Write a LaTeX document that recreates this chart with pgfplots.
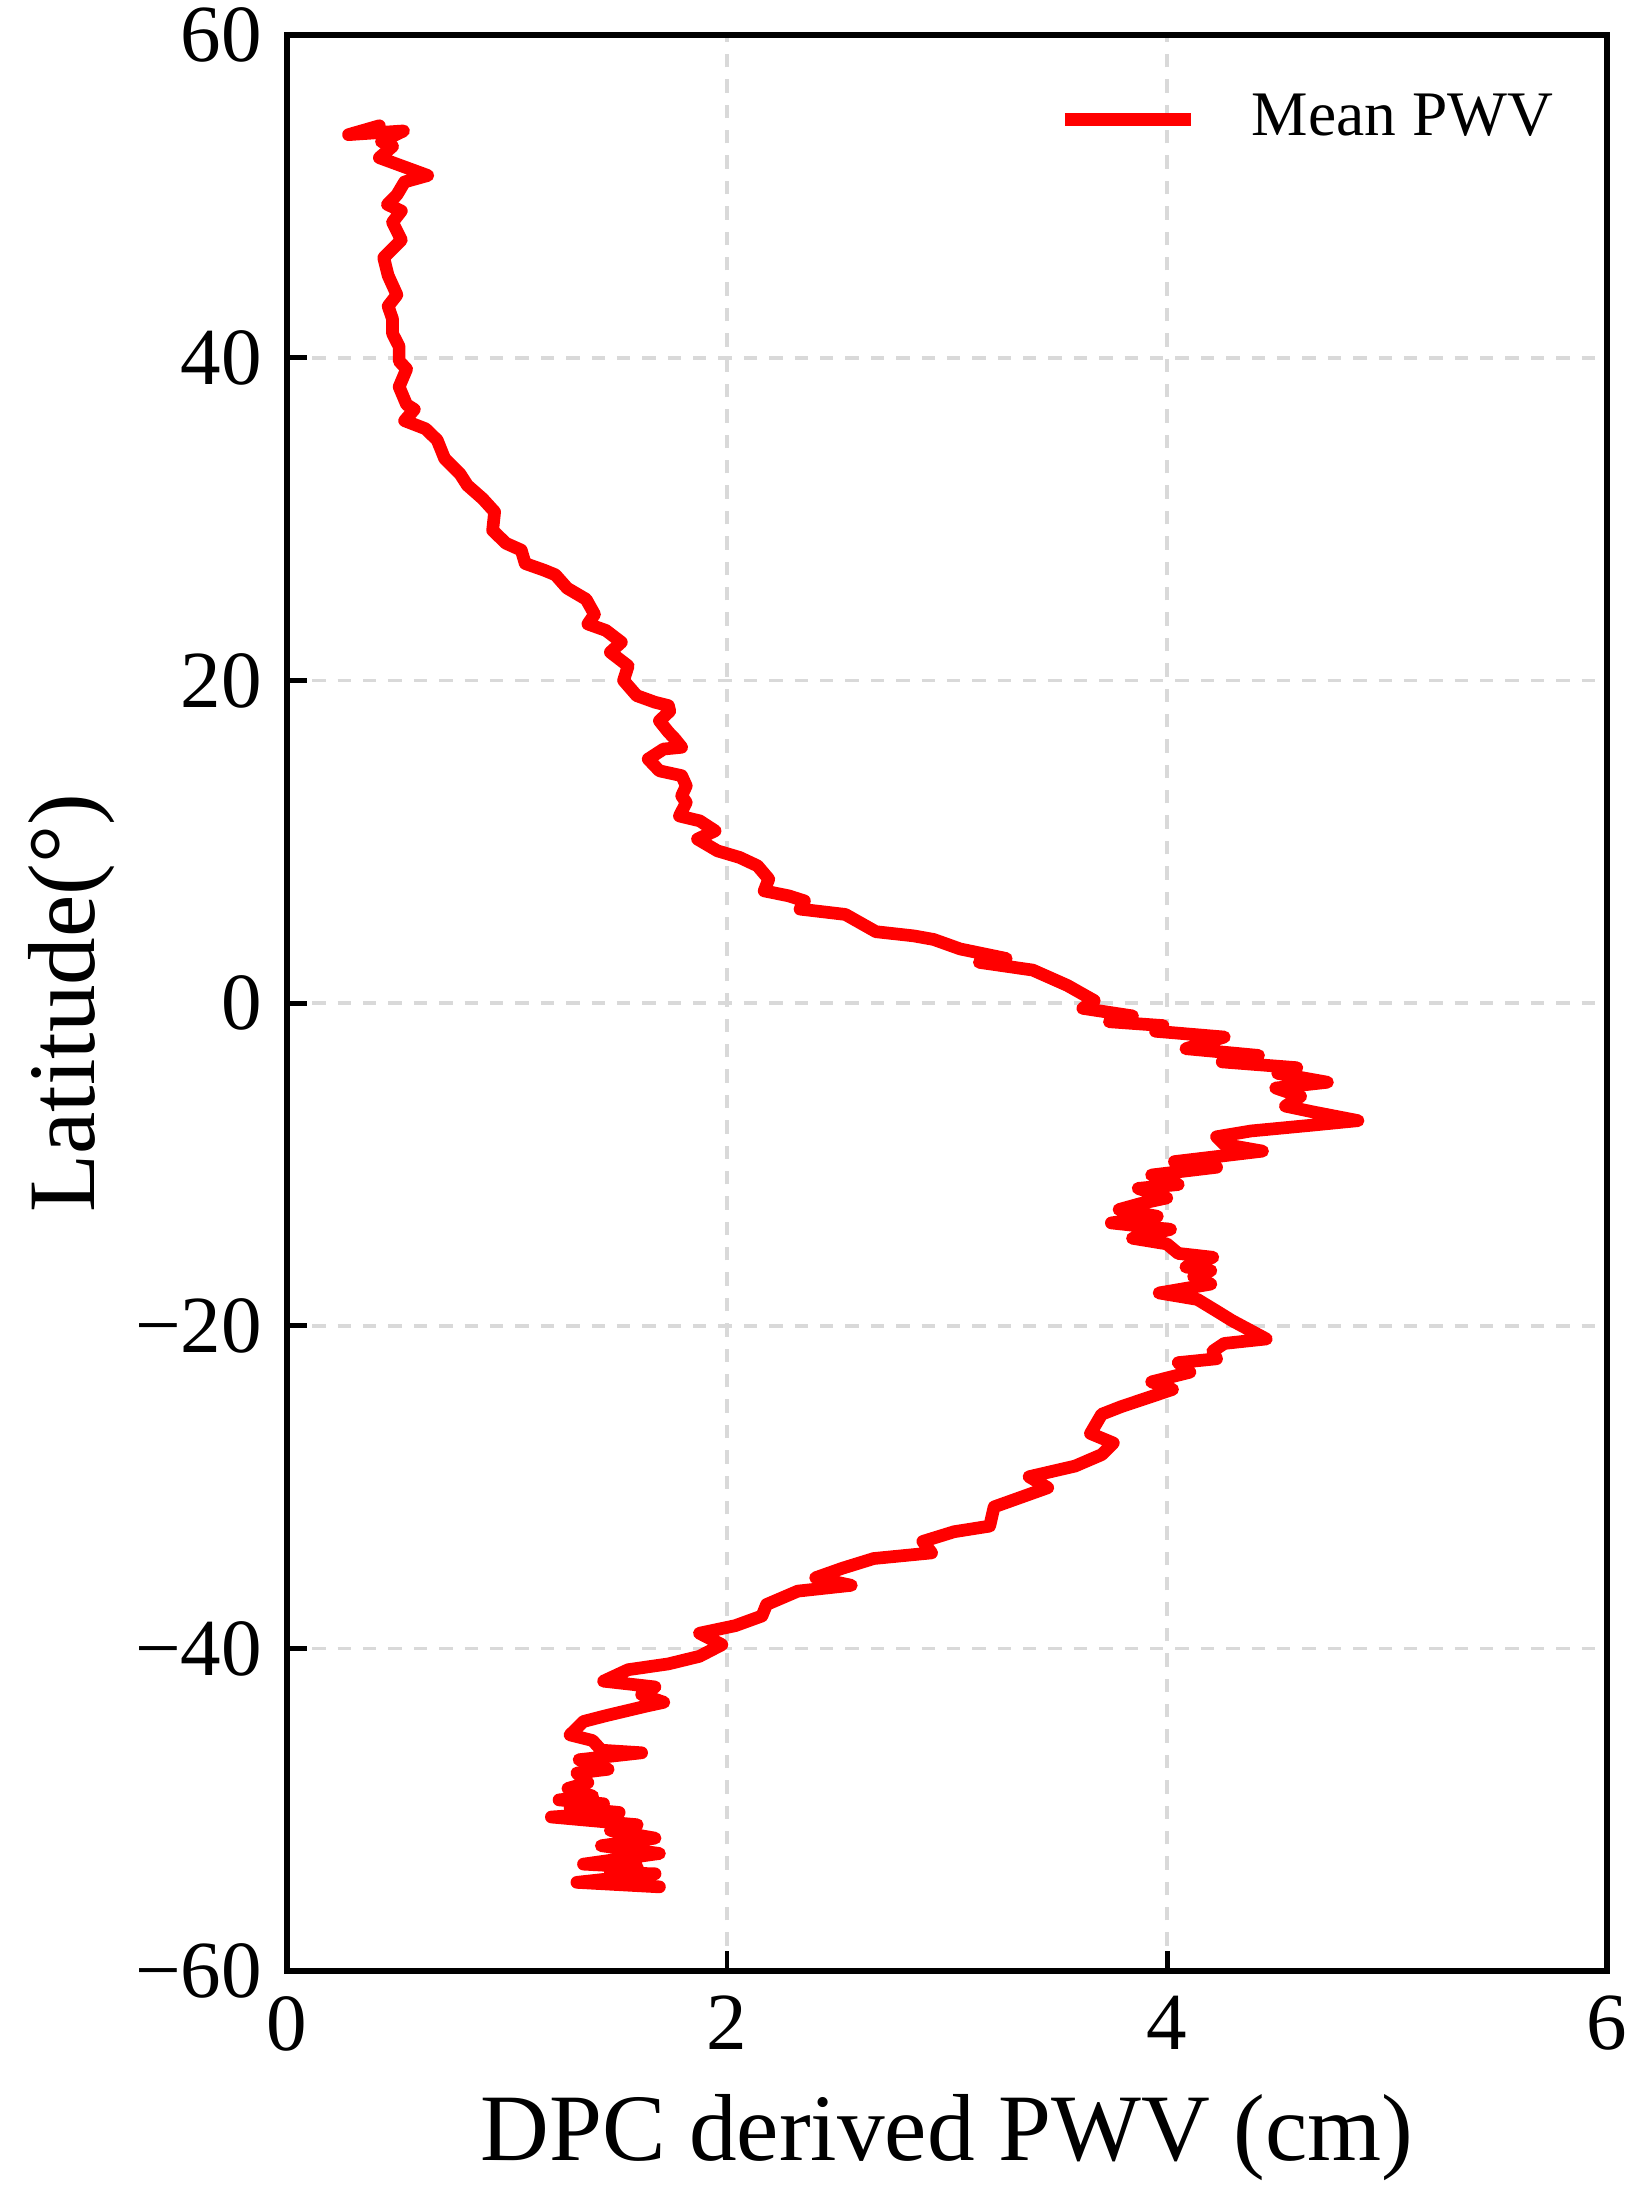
\documentclass[border=0pt]{standalone}
\usepackage{fontspec}
\setmainfont{Liberation Serif}
\usepackage{pgfplots}
\pgfplotsset{compat=1.18}

\begin{document}
\begin{tikzpicture}
\begin{axis}[
    name=ax,
    scale only axis,
    width=6.58cm, height=9.65cm,
    xmin=0, xmax=6, ymin=-60, ymax=60,
    xtick={0,2,4,6}, ytick={-60,-40,-20,0,20,40,60},
    xticklabels={0,2,4,6},
    yticklabels={−60,−40,−20,0,20,40,60},
    tick pos=left, tick align=inside,
    major tick length=0.1cm,
    every tick/.style={black, line width=0.7pt},
    axis line style={line width=0.8pt},
    ticklabel style={font=\fontsize{11.5}{13}\selectfont},
    grid=major,
    major grid style={gray!30, line width=0.5pt, dash pattern=on 1.9pt off 1.7pt},
    xlabel={DPC derived PWV (cm)},
    ylabel={Latitude(°)},
    label style={font=\fontsize{13.5}{16}\selectfont},
    xlabel style={at={(axis description cs:0.5,0)}, anchor=center, yshift=-0.83cm},
    ylabel style={at={(axis description cs:-0.163,0.5)}, anchor=center},
    legend style={draw=none, fill=none, at={(0.987,0.985)}, anchor=north east,
        font=\fontsize{9}{11}\selectfont},
    legend cell align=left,
    legend image code/.code={\draw[#1, line width=1.8pt, line cap=butt] (0cm,0cm) -- (0.63cm,0cm); \path (0.83cm,0cm);},
]
\addplot[color=red, line width=1.8pt, line join=round, line cap=round] coordinates {
    (0.42,54.38) (0.28,53.83) (0.53,54.06) (0.43,53.4) (0.48,53.1)
    (0.42,52.4) (0.50,52.0) (0.58,51.6) (0.64,51.3) (0.535,50.9)
    (0.50,50.1) (0.457,49.5) (0.52,49.1) (0.48,48.4) (0.52,47.3)
    (0.44,46.2) (0.46,45.1) (0.50,43.9) (0.46,43.2) (0.48,42.4)
    (0.48,41.5) (0.51,40.7) (0.51,39.8) (0.544,39.3) (0.51,38.2)
    (0.544,37.1) (0.579,36.8) (0.535,36.1) (0.63,35.6) (0.683,34.9)
    (0.717,33.75) (0.787,32.8) (0.82,32.1) (0.89,31.26) (0.944,30.45)
    (0.935,29.3) (0.996,28.5) (1.065,28.08) (1.083,27.25) (1.17,26.83)
    (1.22,26.55) (1.274,25.72) (1.36,25.03) (1.398,24.1) (1.368,23.5)
    (1.45,23.1) (1.52,22.37) (1.47,21.75) (1.551,20.9) (1.53,20.0)
    (1.59,19.06) (1.673,18.65) (1.734,18.44) (1.74,18.1) (1.693,17.5)
    (1.734,16.8) (1.764,16.37) (1.794,15.86) (1.712,15.75) (1.642,15.13)
    (1.693,14.4) (1.794,14.1) (1.815,13.47) (1.794,12.85) (1.815,12.44)
    (1.784,11.6) (1.876,11.3) (1.946,10.68) (1.866,10.17) (1.957,9.44)
    (2.058,9.03) (2.139,8.51) (2.19,7.69) (2.169,6.96) (2.281,6.65)
    (2.352,6.34) (2.332,5.83) (2.538,5.5) (2.677,4.43) (2.849,4.17)
    (2.939,3.95) (3.06,3.36) (3.269,2.77) (3.147,2.53) (3.39,2.05)
    (3.547,1.1) (3.669,0.16) (3.617,-0.32) (3.843,-0.79) (3.738,-1.15)
    (3.982,-1.39) (3.947,-1.74) (4.26,-2.1) (4.086,-2.82) (4.416,-3.24)
    (4.251,-3.64) (4.59,-4.0) (4.503,-4.35) (4.729,-4.9) (4.494,-5.26)
    (4.607,-5.78) (4.538,-6.38) (4.66,-6.73) (4.868,-7.28) (4.66,-7.56)
    (4.382,-7.92) (4.225,-8.28) (4.26,-8.75) (4.434,-9.17) (4.034,-9.82)
    (4.225,-10.17) (3.93,-10.65) (4.051,-11.24) (3.869,-11.48) (3.999,-12.07)
    (3.877,-12.43) (3.782,-12.79) (3.956,-13.21) (3.747,-13.62) (4.016,-14.02)
    (3.843,-14.57) (3.999,-14.92) (4.051,-15.51) (4.208,-15.75) (4.086,-16.35)
    (4.199,-16.58) (4.121,-16.94) (4.199,-17.41) (3.964,-17.96) (4.138,-18.36)
    (4.225,-19.08) (4.295,-19.67) (4.451,-20.81) (4.26,-21.09) (4.208,-21.57)
    (4.225,-22.04) (4.051,-22.28) (4.104,-22.87) (3.93,-23.47) (4.025,-23.94)
    (3.791,-25.01) (3.703,-25.48) (3.652,-26.67) (3.756,-27.26) (3.703,-27.98)
    (3.582,-28.69) (3.373,-29.35) (3.458,-30.03) (3.214,-31.22) (3.194,-32.41)
    (3.032,-32.76) (2.89,-33.36) (2.93,-34.07) (2.667,-34.42) (2.525,-35.02)
    (2.403,-35.61) (2.565,-36.08) (2.322,-36.44) (2.18,-37.27) (2.159,-37.98)
    (2.038,-38.58) (1.875,-39.05) (1.977,-39.76) (1.875,-40.48) (1.734,-40.95)
    (1.551,-41.31) (1.439,-42.02) (1.673,-42.38) (1.612,-42.85) (1.713,-43.33)
    (1.632,-43.57) (1.45,-44.16) (1.348,-44.52) (1.287,-45.35) (1.389,-45.7)
    (1.429,-46.3) (1.612,-46.46) (1.328,-46.89) (1.46,-47.48) (1.318,-47.72)
    (1.368,-48.31) (1.277,-48.67) (1.389,-49.14) (1.237,-49.38) (1.439,-49.62)
    (1.287,-49.86) (1.51,-50.16) (1.202,-50.44) (1.592,-50.92) (1.47,-51.27)
    (1.673,-51.75) (1.429,-52.22) (1.693,-52.7) (1.348,-53.36) (1.592,-53.54)
    (1.47,-53.89) (1.673,-53.96) (1.318,-54.49) (1.693,-54.77)
};
\addlegendentry{Mean PWV}
\end{axis}
\pgfresetboundingbox
\path[use as bounding box] ([shift={(-1.43cm,-1.18cm)}]ax.south west) rectangle ([shift={(0.21cm,0.175cm)}]ax.north east);
\end{tikzpicture}
\end{document}
